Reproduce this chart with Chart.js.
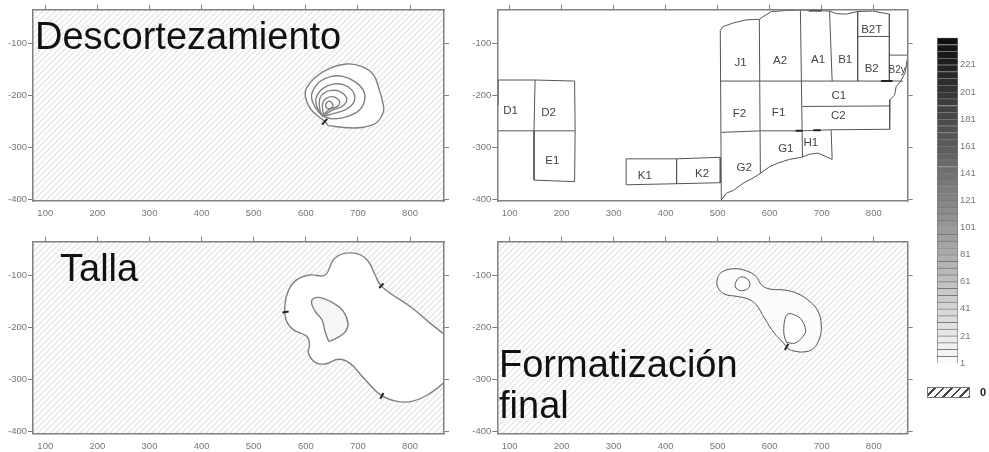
<!DOCTYPE html>
<html>
<head>
<meta charset="utf-8">
<script src="https://cdn.jsdelivr.net/npm/chart.js@4"></script>
<style>
    body { margin: 0; background: #fff; width: 989px; height: 452px; overflow: hidden; position: relative; }
    canvas { position: absolute; filter: blur(0.4px); }
    #swatch { position: absolute; left: 927px; top: 387px; width: 43px; height: 11px; border: 1px solid #777; box-sizing: border-box;
        background: repeating-linear-gradient(135deg, #fff 0 4px, #444 4px 6px); filter: blur(0.4px); }
    #swatchLabel { position: absolute; left: 980px; top: 386px; font: bold 11px "Liberation Sans", Arial, sans-serif; color: #222; }
</style>
</head>
<body>
<canvas id="descort"></canvas>
<canvas id="mapa"></canvas>
<canvas id="talla"></canvas>
<canvas id="formato"></canvas>
<canvas id="ramp"></canvas>
<div id="swatch"></div>
<div id="swatchLabel">0</div>
<script>
// axes
const xTicks = [100, 200, 300, 400, 500, 600, 700, 800];
const yTicks = [-100, -200, -300, -400];
const rampTicks = [1, 21, 41, 61, 81, 101, 121, 141, 161, 181, 201, 221];
const rampLevels = [1, 6, 11, 16, 21, 26, 31, 36, 41, 46, 51, 56, 61, 66, 71, 76, 81, 86, 91, 96, 101, 106, 111, 116, 121,
    126, 131, 136, 141, 146, 151, 156, 161, 166, 171, 176, 181, 186, 191, 196, 201, 206, 211, 216, 221, 226, 231, 236, 241];

// Descortezamiento contours, inner to outer
const des6 = [[646,-226],[652,-220],[649,-213],[643,-211],[638,-218],[640,-224],[646,-226]];
const des5 = [[634,-237],[646,-226],[659,-222],[665,-215],[662,-207],[651,-202],[640,-205],[633,-213],[632,-224],[634,-237]];
const des4 = [[633,-240],[649,-229],[668,-222],[678,-212],[677,-202],[665,-192],[649,-190],[635,-195],[627,-205],[626,-218],[628,-231],[633,-240]];
const des3 = [[633,-240],[656,-234],[678,-226],[691,-215],[694,-202],[688,-189],[672,-179],[652,-178],[633,-186],[622,-199],[619,-212],[624,-228],[633,-240]];
const des2 = [[633,-240],[652,-245],[681,-240],[703,-228],[713,-208],[710,-189],[694,-173],[671,-163],[649,-163],[627,-173],[613,-192],[611,-205],[617,-221],[627,-234],[633,-240]];
const des1 = [[643,-258],[679,-262],[711,-261],[736,-252],[749,-231],[748,-215],[741,-189],[730,-160],[708,-144],[679,-139],[647,-147],[618,-165],[601,-186],[599,-202],[608,-224],[624,-240],[637,-250],[643,-258]];
const desMarks = [[[631,-256],[641,-245]]];

// Talla contours
const tal2 = [[644,-227],[660,-220],[676,-208],[681,-192],[672,-169],[653,-153],[624,-142],[611,-149],[618,-169],[631,-185],[637,-208],[644,-227]];
const tal1 = [[867,-214],[839,-192],[801,-160],[762,-134],[743,-118],[733,-99],[720,-73],[701,-59],[672,-58],[653,-70],[637,-99],[608,-99],[583,-108],[567,-128],[560,-156],[562,-185],[576,-204],[602,-217],[607,-233],[605,-249],[618,-267],[637,-270],[663,-261],[685,-269],[711,-297],[743,-329],[775,-342],[807,-341],[839,-326],[867,-304],[900,-260],[867,-214]];
const talMarks = [[[741,-124],[749,-115]], [[555,-171],[567,-169]], [[743,-337],[749,-326]]];

// Formatizacion final contours
const for3 = [[533,-117],[539,-106],[550,-103],[561,-112],[560,-123],[549,-129],[537,-126],[533,-117]];
const for2 = [[632,-228],[648,-230],[664,-217],[669,-206],[661,-185],[648,-176],[635,-174],[629,-185],[627,-208],[629,-220],[632,-228]];
const for1 = [[645,-245],[664,-247],[683,-241],[696,-220],[699,-195],[693,-169],[677,-150],[654,-135],[629,-128],[600,-126],[584,-118],[574,-102],[555,-91],[530,-87],[507,-94],[499,-108],[501,-124],[514,-136],[536,-140],[558,-145],[574,-156],[590,-182],[609,-211],[625,-228],[635,-240],[645,-245]];
const forMarks = [[[629,-243],[636,-231]]];

// map of the plots
const mapOutline = [[507,-401],[505,-74],[510,-67],[530,-60],[555,-54],[580,-53],[587,-48],[603,-38],[632,-36],[661,-35],[715,-37],[728,-42],[747,-43],[769,-38],[798,-37],[830,-43],[830,-122],[830,-172]];
const mapCoast = [[864,-131],[861,-154],[852,-172],[843,-183],[840,-199],[831,-208],[830,-220],[831,-265],[718,-266],[720,-323],[709,-318],[693,-311],[677,-313],[661,-319],[638,-323],[616,-330],[600,-337],[582,-350],[568,-359],[549,-369],[530,-383],[517,-388],[507,-401]];
const mapInner = [
    [[505,-172],[856,-172]],
    [[507,-271],[584,-268],[663,-268],[718,-266]],
    [[663,-221],[830,-220]],
    [[580,-53],[582,-350]],
    [[659,-35],[663,-319]],
    [[715,-37],[720,-172]],
    [[769,-38],[769,-172]],
    [[769,-86],[830,-86]],
    [[830,-122],[865,-122]]
];
const mapD = [[77,-170],[149,-170],[225,-172],[226,-268],[149,-268],[77,-268]];
const mapD2 = [[149,-170],[147,-268],[147,-363],[225,-366],[226,-268]];
const mapK = [[324,-322],[421,-322],[505,-319],[505,-368],[421,-370],[324,-372],[324,-322]];
const mapK2 = [[421,-322],[421,-370]];
const mapDark = [[[77,-170],[77,-218]], [[675,-36],[700,-36]], [[814,-172],[836,-172]], [[650,-268],[663,-268]], [[684,-267],[698,-267]]];
const mapNames = ['J1','A2','A1','B1','B2T','B2','B2y','C1','C2','F2','F1','G1','H1','G2','K1','K2','D1','D2','E1'];
const mapNameX = [544,620,693,745,796,796,845,733,732,542,617,631,679,551,360,470,102,175,182];
const mapNameY = [-136,-133,-131,-131,-74,-148,-152,-200,-240,-236,-234,-303,-292,-339,-354,-350,-230,-233,-326];

function xy(points) {
    return points.map(function(p) { return {x: p[0], y: p[1]}; });
}

function hatchPattern(ctx) {
    const c = document.createElement('canvas');
    c.width = 6;
    c.height = 6;
    const g = c.getContext('2d');
    g.strokeStyle = '#e7e7e7';
    g.lineWidth = 1.5;
    g.beginPath();
    g.moveTo(-1, 7);
    g.lineTo(7, -1);
    g.moveTo(-1, 1);
    g.lineTo(1, -1);
    g.moveTo(5, 7);
    g.lineTo(7, 5);
    g.stroke();
    return ctx.createPattern(c, 'repeat');
}

const panelPlugin = {
    id: 'panel',
    beforeDatasetsDraw(chart, args, opts) {
        if (!opts.hatch) return;
        const a = chart.chartArea;
        chart.ctx.save();
        chart.ctx.fillStyle = hatchPattern(chart.ctx);
        chart.ctx.fillRect(a.left, a.top, a.width, a.height);
        chart.ctx.restore();
    },
    afterDatasetsDraw(chart, args, opts) {
        const ctx = chart.ctx;
        const xs = chart.scales.x, ys = chart.scales.y;
        ctx.save();
        (opts.names || []).forEach(function(n, i) {
            ctx.font = (n === 'B2y' ? '10px' : '11.5px') + ' "Liberation Sans", Arial, sans-serif';
            ctx.fillStyle = '#444';
            ctx.textAlign = 'center';
            ctx.textBaseline = 'middle';
            ctx.fillText(n, xs.getPixelForValue(opts.nameX[i]), ys.getPixelForValue(opts.nameY[i]));
        });
        (opts.titles || []).forEach(function(t) {
            ctx.font = '38px "Liberation Sans", Arial, sans-serif';
            ctx.fillStyle = '#111';
            ctx.textAlign = 'left';
            ctx.textBaseline = 'alphabetic';
            ctx.fillText(t.text, t.left, t.base);
        });
        ctx.restore();
    }
};

function lineSet(points, color, width, fill, tension) {
    return {
        data: xy(points),
        showLine: true,
        pointRadius: 0,
        borderColor: color,
        borderWidth: width,
        tension: tension,
        fill: fill ? 'shape' : false,
        backgroundColor: fill || 'transparent'
    };
}

function marks(list) {
    return list.map(function(m) { return lineSet(m, '#222', 2, null, 0); });
}

// rect is where the plot area has to land on the page
function makePanel(id, cx, cy, rect, datasets, plugOpts) {
    const el = document.getElementById(id);
    el.style.left = cx + 'px';
    el.style.top = cy + 'px';
    el.width = 460;
    el.height = 452 - cy > 225 ? 227 : 225;
    const tickFont = {family: '"Liberation Sans", Arial, sans-serif', size: 9.5};
    const axisColor = '#808080';
    new Chart(el, {
        type: 'scatter',
        data: {datasets: datasets},
        plugins: [panelPlugin],
        options: {
            responsive: false,
            animation: false,
            devicePixelRatio: 1,
            events: [],
            layout: {padding: {left: 0, top: rect[1] - cy, right: cx + 460 - rect[2], bottom: 0}},
            plugins: {legend: {display: false}, tooltip: {enabled: false}, panel: plugOpts},
            scales: {
                x: {
                    type: 'linear', position: 'bottom', min: 76.4, max: 865.2,
                    afterBuildTicks: function(s) { s.ticks = xTicks.map(function(v) { return {value: v}; }); },
                    afterFit: function(s) { s.height = el.height - (rect[3] - cy); },
                    border: {color: axisColor, width: 1.5, z: 1},
                    grid: {display: true, drawOnChartArea: false, drawTicks: false},
                    ticks: {font: tickFont, color: '#777', padding: 7, maxRotation: 0, autoSkip: false}
                },
                y: {
                    type: 'linear', position: 'left', min: -403.3, max: -35,
                    afterBuildTicks: function(s) { s.ticks = yTicks.map(function(v) { return {value: v}; }); },
                    afterFit: function(s) { s.width = rect[0] - cx; },
                    border: {color: axisColor, width: 1.5, z: 1},
                    grid: {drawOnChartArea: false, tickLength: 5, tickColor: axisColor},
                    ticks: {font: tickFont, color: '#777', padding: 1, autoSkip: false}
                },
                xTop: {
                    type: 'linear', axis: 'x', position: 'top', min: 76.4, max: 865.2,
                    afterBuildTicks: function(s) { s.ticks = xTicks.map(function(v) { return {value: v}; }); },
                    afterFit: function(s) { s.height = 0; },
                    border: {color: axisColor, width: 1.5, z: 1},
                    grid: {drawOnChartArea: false, tickLength: 5, tickColor: axisColor},
                    ticks: {display: false}
                },
                yRight: {
                    type: 'linear', axis: 'y', position: 'right', min: -403.3, max: -35,
                    afterBuildTicks: function(s) { s.ticks = yTicks.map(function(v) { return {value: v}; }); },
                    afterFit: function(s) { s.width = 0; },
                    border: {color: axisColor, width: 1.5, z: 1},
                    grid: {drawOnChartArea: false, tickLength: 5, tickColor: axisColor},
                    ticks: {display: false}
                }
            }
        }
    });
}

const contour = '#808080';

makePanel('descort', 0, 0, [33, 10, 444, 201],
    [des6, des5, des4, des3, des2].map(function(c) { return lineSet(c, contour, 1.4, null, 0.4); })
        .concat(marks(desMarks), [lineSet(des1, contour, 1.4, '#fff', 0.4)]),
    {hatch: true, titles: [{text: 'Descortezamiento', left: 35, base: 49}]});

makePanel('mapa', 465, 0, [497.3, 10, 907.7, 201],
    marks(mapDark).concat(
        mapInner.map(function(c) { return lineSet(c, '#555', 1, null, 0); }),
        [mapOutline, mapCoast, mapD, mapD2, mapK, mapK2].map(function(c) { return lineSet(c, '#555', 1, null, 0); })
    ),
    {hatch: false, names: mapNames, nameX: mapNameX, nameY: mapNameY});

makePanel('talla', 0, 225, [33, 241.7, 444, 433.3],
    marks(talMarks).concat([lineSet(tal2, contour, 1.4, '#f6f6f6', 0.4), lineSet(tal1, contour, 1.4, '#fff', 0.4)]),
    {hatch: true, titles: [{text: 'Talla', left: 60, base: 56}]});

makePanel('formato', 465, 225, [497.3, 241.7, 907.7, 433.3],
    marks(forMarks).concat([lineSet(for3, '#555', 1, '#fff', 0.4), lineSet(for2, '#555', 1, '#fff', 0.4), lineSet(for1, '#555', 1, '#fbfbfb', 0.4)]),
    {hatch: true, titles: [{text: 'Formatización', left: 34, base: 152}, {text: 'final', left: 34, base: 193}]});

// grey ramp on the right
const rampEl = document.getElementById('ramp');
rampEl.style.left = '930px';
rampEl.style.top = '30px';
rampEl.width = 59;
rampEl.height = 345;
new Chart(rampEl, {
    type: 'bar',
    data: {
        labels: ['ramp'],
        datasets: rampLevels.slice(0, -1).map(function(v, i) {
            const g = Math.round(250 - 235 * i / (rampLevels.length - 2));
            return {
                data: [[v, rampLevels[i + 1]]],
                backgroundColor: 'rgb(' + g + ',' + g + ',' + g + ')',
                borderColor: 'rgba(70,70,70,0.7)',
                borderWidth: {top: 1, bottom: 0, left: 1, right: 1},
                borderSkipped: false,
                grouped: false,
                barPercentage: 1,
                categoryPercentage: 1
            };
        })
    },
    options: {
        responsive: false,
        animation: false,
        devicePixelRatio: 1,
        events: [],
        layout: {padding: {left: 7, top: 6, right: 0, bottom: 12}},
        plugins: {legend: {display: false}, tooltip: {enabled: false}},
        scales: {
            x: {display: false},
            y: {
                type: 'linear', position: 'right', min: 1, max: 241,
                afterBuildTicks: function(s) { s.ticks = rampTicks.map(function(v) { return {value: v}; }); },
                afterFit: function(s) { s.width = 31; },
                border: {display: false},
                grid: {display: false, drawTicks: false},
                ticks: {font: {family: '"Liberation Sans", Arial, sans-serif', size: 9.5}, color: '#777', padding: 2, autoSkip: false}
            }
        }
    }
});
</script>
</body>
</html>
